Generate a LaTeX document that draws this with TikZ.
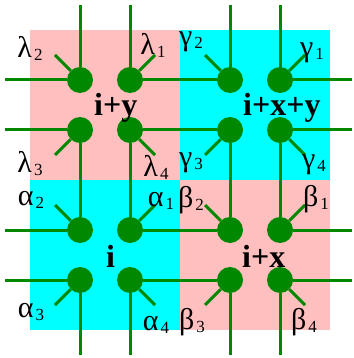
\documentclass[tikz,border=0pt]{standalone}
\usepackage{fontspec}
\setmainfont{Liberation Serif}
\definecolor{leaf}{RGB}{0,136,0}
\definecolor{rosa}{RGB}{255,191,191}
\definecolor{aqua}{RGB}{0,255,255}
\newcommand{\glab}[2]{#1\kern2pt\raisebox{-3pt}{\fontsize{17}{17}\selectfont #2}}
\begin{document}
\begin{tikzpicture}[x=1pt,y=-1pt,
  dot/.style={circle,fill=leaf,minimum size=26pt,inner sep=0pt},
  link/.style={draw=leaf,line width=3pt},
  greek/.style={font=\fontsize{30}{30}\selectfont,inner sep=0pt},
  site/.style={font=\fontsize{32}{32}\selectfont\bfseries,inner sep=0pt,anchor=base west}]
\useasboundingbox (0,0) rectangle (353,358);
% plaquettes
\fill[rosa] (30,30) rectangle (180,180);
\fill[aqua] (180,30) rectangle (330,180);
\fill[aqua] (30,180) rectangle (180,330);
\fill[rosa] (180,180) rectangle (330,330);
% sites
\foreach \n/\x/\y in {l1/130/80,l2/80/80,l3/80/130,l4/130/130,
                      g1/280/80,g2/230/80,g3/230/130,g4/280/130,
                      a1/130/230,a2/80/230,a3/80/280,a4/130/280,
                      b1/280/230,b2/230/230,b3/230/280,b4/280/280}
  \node[dot] (\n) at (\x,\y) {};
% free ends
\foreach \k/\v in {1/80,2/130,3/230,4/280}{
  \coordinate (west\k) at (5,\v);
  \coordinate (east\k) at (352,\v);
  \coordinate (north\k) at (\v,5);
  \coordinate (south\k) at (\v,355);
}
\foreach \n/\x/\y in {l1/155/55,l2/55/55,l3/55/155,l4/155/155,
                      g1/305/55,g2/205/55,g3/205/155,g4/305/155,
                      a1/155/205,a2/55/205,a3/55/305,a4/155/305,
                      b1/305/205,b2/205/205,b3/205/305,b4/305/305}
  \coordinate (\n s) at (\x,\y);
% bonds
\draw[link] (west1) -- (l2) (l1) -- (g2) (g1) -- (east1);
\draw[link] (west2) -- (l3) (l4) -- (g3) (g4) -- (east2);
\draw[link] (west3) -- (a2) (a1) -- (b2) (b1) -- (east3);
\draw[link] (west4) -- (a3) (a4) -- (b3) (b4) -- (east4);
\draw[link] (north1) -- (l2) (l3) -- (a2) (a3) -- (south1);
\draw[link] (north2) -- (l1) (l4) -- (a1) (a4) -- (south2);
\draw[link] (north3) -- (g2) (g3) -- (b2) (b3) -- (south3);
\draw[link] (north4) -- (g1) (g4) -- (b1) (b4) -- (south4);
\foreach \n in {l1,l2,l3,l4,g1,g2,g3,g4,a1,a2,a3,a4,b1,b2,b3,b4}
  \draw[link] (\n) -- (\n s);
% labels
\node[site] (iy) at (94,116) {i+y};
\node[site] (ixy) at (243,116) {i+x+y};
\node[site] (i) at (106,267) {i};
\node[site] (ix) at (242,267) {i+x};
\node[greek] (tl1) at (153,45) {\glab{λ}{1}};
\node[greek] (tl2) at (30,48) {\glab{λ}{2}};
\node[greek] (tl3) at (30,164) {\glab{λ}{3}};
\node[greek] (tl4) at (156,167) {\glab{λ}{4}};
\node[greek] (tg1) at (312,53) {\glab{γ}{1}};
\node[greek] (tg2) at (191,42) {\glab{γ}{2}};
\node[greek] (tg3) at (191,163) {\glab{γ}{3}};
\node[greek] (tg4) at (314,165) {\glab{γ}{4}};
\node[greek] (ta1) at (161,201) {\glab{α}{1}};
\node[greek] (ta2) at (31,200) {\glab{α}{2}};
\node[greek] (ta3) at (31,312) {\glab{α}{3}};
\node[greek] (ta4) at (156,325) {\glab{α}{4}};
\node[greek] (tb1) at (316,199) {\glab{β}{1}};
\node[greek] (tb2) at (191,200) {\glab{β}{2}};
\node[greek] (tb3) at (192,322) {\glab{β}{3}};
\node[greek] (tb4) at (304,322) {\glab{β}{4}};
\end{tikzpicture}
\end{document}
